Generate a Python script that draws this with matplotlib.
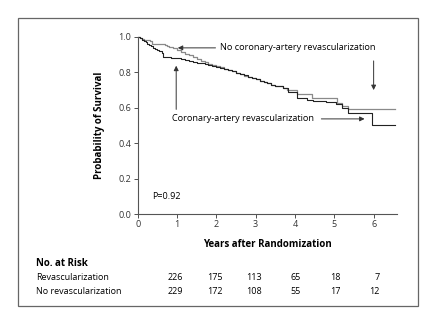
import matplotlib
matplotlib.use("Agg")
import matplotlib.pyplot as plt
from matplotlib.patches import Rectangle

plt.rcParams['font.family'] = ['Open Sans', 'DejaVu Sans']

# Kaplan-Meier step data
revasc_t = [0, 0.05, 0.1, 0.15, 0.2, 0.25, 0.3, 0.35, 0.4, 0.45, 0.5, 0.55, 0.62,
            0.65, 0.85, 1.0, 1.1, 1.2, 1.3, 1.4, 1.5, 1.6, 1.7, 1.8, 1.9, 2.0,
            2.1, 2.2, 2.3, 2.4, 2.5, 2.6, 2.7, 2.8, 2.9, 3.0, 3.1, 3.2, 3.3, 3.4,
            3.5, 3.6, 3.7, 3.83, 4.05, 4.3, 4.45, 4.8, 5.05, 5.2, 5.35, 5.97, 6.55]
revasc_s = [1.0, 0.993, 0.985, 0.978, 0.97, 0.962, 0.955, 0.948, 0.94, 0.932, 0.925,
            0.918, 0.91, 0.888, 0.882, 0.878, 0.874, 0.870, 0.865, 0.860, 0.855,
            0.850, 0.845, 0.840, 0.836, 0.832, 0.826, 0.820, 0.813, 0.806, 0.798,
            0.790, 0.783, 0.775, 0.768, 0.760, 0.752, 0.745, 0.738, 0.730, 0.725,
            0.720, 0.712, 0.69, 0.655, 0.645, 0.64, 0.63, 0.62, 0.60, 0.57, 0.50,
            0.50]

norevasc_t = [0, 0.05, 0.1, 0.15, 0.2, 0.31, 0.36, 0.7, 0.75, 0.8, 0.9, 1.0, 1.1,
              1.2, 1.3, 1.4, 1.5, 1.6, 1.7, 1.8, 1.9, 2.0, 2.1, 2.2, 2.3, 2.4,
              2.5, 2.6, 2.7, 2.8, 2.9, 3.0, 3.1, 3.2, 3.3, 3.4, 3.5, 3.6, 3.7, 3.8,
              4.05, 4.43, 5.07, 5.2, 5.35, 6.55]
norevasc_s = [1.0, 0.995, 0.99, 0.985, 0.98, 0.974, 0.962, 0.955, 0.95, 0.945,
              0.935, 0.925, 0.915, 0.905, 0.895, 0.885, 0.875, 0.865, 0.857, 0.848,
              0.841, 0.835, 0.828, 0.820, 0.813, 0.805, 0.797, 0.790, 0.782, 0.775,
              0.768, 0.760, 0.752, 0.745, 0.738, 0.730, 0.725, 0.720, 0.71, 0.70,
              0.675, 0.654, 0.627, 0.61, 0.593, 0.593]

# numbers at risk
risk_years = [1, 2, 3, 4, 5, 6]
risk_revasc = [226, 175, 113, 65, 18, 7]
risk_norevasc = [229, 172, 108, 55, 17, 12]

fig = plt.figure(figsize=(4.37, 3.25), dpi=100)
ax = fig.add_axes([0.315, 0.3415, 0.594, 0.545])

ax.plot(norevasc_t, norevasc_s, drawstyle='steps-post', color='#8a8a8a', lw=0.9, clip_on=False)
ax.plot(revasc_t, revasc_s, drawstyle='steps-post', color='#222222', lw=0.8, clip_on=False)

ax.set_xlim(0, 6.6)
ax.set_ylim(0, 1.0)
ax.set_xticks([0, 1, 2, 3, 4, 5, 6])
ax.set_yticks([0, 0.2, 0.4, 0.6, 0.8, 1.0])
ax.set_yticklabels(['0.0', '0.2', '0.4', '0.6', '0.8', '1.0'])
ax.tick_params(labelsize=6.5, length=3, width=0.6, pad=1.5, colors='#333333')
for side in ['top', 'right']:
    ax.spines[side].set_visible(False)
for side in ['left', 'bottom']:
    ax.spines[side].set_color('#555555')
    ax.spines[side].set_linewidth(0.8)

ax.set_xlabel('Years after Randomization', fontsize=7, fontweight='bold', labelpad=7)
ax.set_ylabel('Probability of Survival', fontsize=7, fontweight='bold', labelpad=10)

# annotations
arrow = dict(arrowstyle='-|>', color='#333333', lw=0.7, mutation_scale=7)
ax.text(2.1, 0.938, 'No coronary-artery revascularization', fontsize=6.6,
        va='center', ha='left')
ax.annotate('', xy=(0.95, 0.938), xytext=(2.05, 0.938), arrowprops=arrow)
ax.annotate('', xy=(6.0, 0.684), xytext=(6.0, 0.88), arrowprops=arrow)

ax.text(0.88, 0.537, 'Coronary-artery revascularization', fontsize=6.6,
        va='center', ha='left')
ax.annotate('', xy=(0.98, 0.853), xytext=(0.98, 0.575), arrowprops=arrow)
ax.annotate('', xy=(5.84, 0.537), xytext=(4.6, 0.537), arrowprops=arrow)

ax.text(0.38, 0.098, 'P=0.92', fontsize=6.5, va='center', ha='left')

# number at risk table
fig.text(0.082, 1 - 264 / 325, 'No. at Risk', fontsize=7, fontweight='bold', va='center')
fig.text(0.082, 1 - 277.7 / 325, 'Revascularization', fontsize=6.5, va='center')
fig.text(0.082, 1 - 291 / 325, 'No revascularization', fontsize=6.5, va='center')
trans = ax.get_xaxis_transform()
for yr, a, b in zip(risk_years, risk_revasc, risk_norevasc):
    ax.text(yr + 0.15, (214 - 277.7) / 177, str(a), fontsize=6.5, ha='right',
            va='center', transform=trans, clip_on=False)
    ax.text(yr + 0.15, (214 - 291) / 177, str(b), fontsize=6.5, ha='right',
            va='center', transform=trans, clip_on=False)

# frame around the figure
fig.patches.append(Rectangle((18 / 437, 1 - 306 / 325), 400 / 437, 288 / 325,
                             transform=fig.transFigure, fill=False,
                             edgecolor='#666666', lw=0.9))

fig.savefig('out.png', dpi=100)
